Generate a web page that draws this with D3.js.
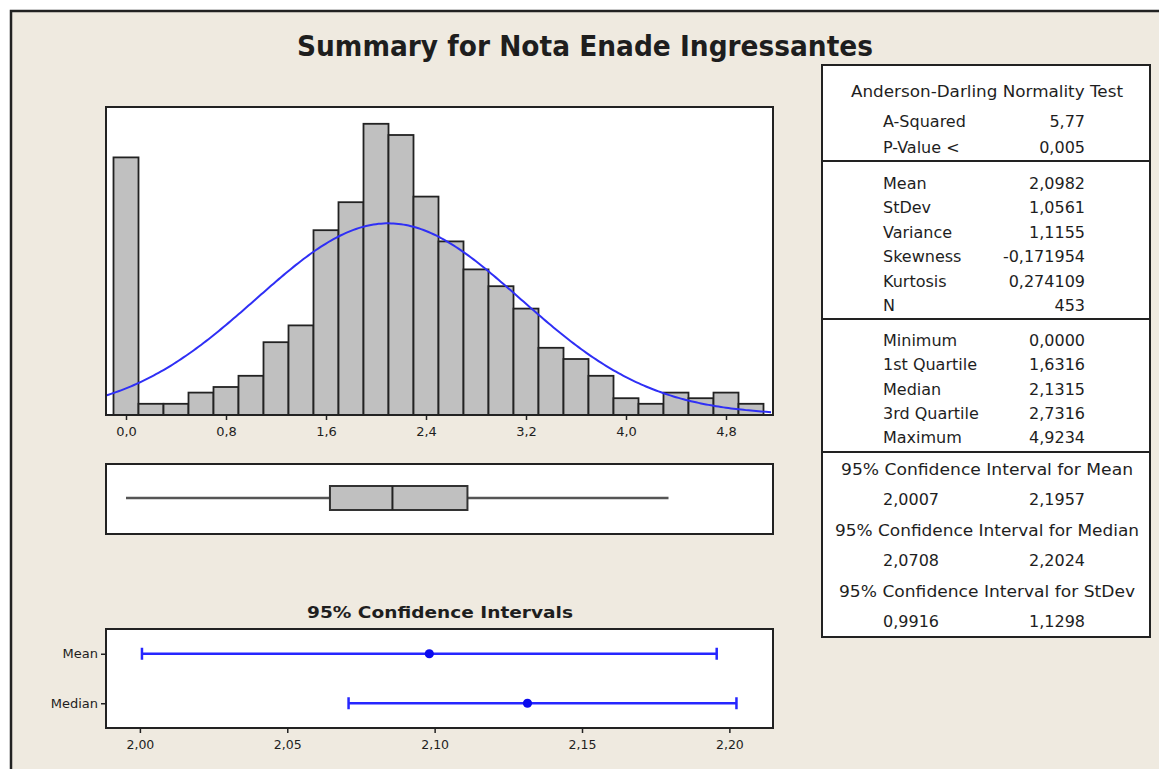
<!DOCTYPE html>
<html lang="en">
<head>
    <meta charset="UTF-8">
    <title>Summary for Nota Enade Ingressantes</title>
    <script src="https://d3js.org/d3.v7.min.js"></script>
    <style>
        body { margin: 0; background: #ffffff; }
        text { font-family: "DejaVu Sans", sans-serif; fill: #1e1e1e; }
        .axis path { display: none; }
        .axis line { stroke: #222; stroke-width: 1.5px; }
        .frame { fill: #ffffff; stroke: #222; stroke-width: 2px; }
        .bar { fill: #c0c0c0; stroke: #222; stroke-width: 1.8px; }
        .curve { fill: none; stroke: #2f2ff5; stroke-width: 2px; }
        .ci { stroke: #2626ff; stroke-width: 2.5px; }
    </style>
</head>
<body>
<div id="chart"></div>
<script>
    // histogram bins (midpoints, width 0.2) and counts
    const binMids = [0.0, 0.2, 0.4, 0.6, 0.8, 1.0, 1.2, 1.4, 1.6, 1.8, 2.0, 2.2, 2.4,
                     2.6, 2.8, 3.0, 3.2, 3.4, 3.6, 3.8, 4.0, 4.2, 4.4, 4.6, 4.8, 5.0];
    const binCounts = [46, 2, 2, 4, 5, 7, 13, 16, 33, 38, 52, 50, 39,
                       31, 26, 23, 19, 12, 10, 7, 3, 2, 4, 3, 4, 2];
    const binWidth = 0.2;
    const histTicks = [0.0, 0.8, 1.6, 2.4, 3.2, 4.0, 4.8];

    // fitted normal
    const mean = 2.0982;
    const stdev = 1.0561;
    const n = 453;

    // boxplot: low whisker, Q1, median, Q3, high whisker
    const boxStats = [0.0, 1.6316, 2.1315, 2.7316, 4.34];

    // 95% confidence intervals
    const ciRows = ["Mean", "Median"];
    const ciLow = [2.0007, 2.0708];
    const ciEst = [2.0982, 2.1315];
    const ciHigh = [2.1957, 2.2024];
    const ciTicks = [2.00, 2.05, 2.10, 2.15, 2.20];

    // summary table
    const adLabels = ["A-Squared", "P-Value <"];
    const adValues = ["5,77", "0,005"];
    const descLabels = ["Mean", "StDev", "Variance", "Skewness", "Kurtosis", "N"];
    const descValues = ["2,0982", "1,0561", "1,1155", "-0,171954", "0,274109", "453"];
    const quartLabels = ["Minimum", "1st Quartile", "Median", "3rd Quartile", "Maximum"];
    const quartValues = ["0,0000", "1,6316", "2,1315", "2,7316", "4,9234"];
    const ciHeaders = ["95% Confidence Interval for Mean", "95% Confidence Interval for Median",
                       "95% Confidence Interval for StDev"];
    const ciTableLow = ["2,0007", "2,0708", "0,9916"];
    const ciTableHigh = ["2,1957", "2,2024", "1,1298"];

    const W = 1159, H = 769;
    const locale = d3.formatLocale({decimal: ",", thousands: ".", grouping: [3], currency: ["", ""]});

    const svg = d3.select("#chart").append("svg")
        .attr("width", W)
        .attr("height", H);

    // background panel with border on top / left
    svg.append("rect").attr("x", 11).attr("y", 11).attr("width", W - 11).attr("height", H - 11)
        .attr("fill", "#efeae0");
    svg.append("path").attr("d", `M11,${H} L11,11 L${W},11`)
        .attr("fill", "none").attr("stroke", "#222").attr("stroke-width", 2.5);

    svg.append("text")
        .attr("x", 585).attr("y", 56)
        .attr("text-anchor", "middle")
        .attr("font-size", 29).attr("font-weight", "bold")
        .attr("textLength", 576).attr("lengthAdjust", "spacingAndGlyphs")
        .text("Summary for Nota Enade Ingressantes");

    // ---- histogram ----
    const plotL = 106, plotR = 773;
    const x = d3.scaleLinear().domain([-0.16, 5.176]).range([plotL, plotR]);
    const y = d3.scaleLinear().domain([0, 55]).range([415, 107]);

    svg.append("rect").attr("class", "frame")
        .attr("x", plotL).attr("y", 107).attr("width", plotR - plotL).attr("height", 415 - 107);

    svg.append("g").selectAll("rect")
        .data(binMids)
        .enter().append("rect")
        .attr("class", "bar")
        .attr("x", d => x(d - binWidth / 2))
        .attr("width", d => x(d + binWidth / 2) - x(d - binWidth / 2))
        .attr("y", (d, i) => y(binCounts[i]))
        .attr("height", (d, i) => y(0) - y(binCounts[i]));

    const normPdf = v => Math.exp(-0.5 * ((v - mean) / stdev) ** 2) / (stdev * Math.sqrt(2 * Math.PI));
    const curveX = d3.range(x.domain()[0], x.domain()[1] + 0.001, 0.02);
    svg.append("path")
        .datum(curveX)
        .attr("class", "curve")
        .attr("d", d3.line().x(d => x(d)).y(d => y(n * binWidth * normPdf(d))));

    // redraw frame outline on top
    svg.append("rect").attr("x", plotL).attr("y", 107).attr("width", plotR - plotL).attr("height", 415 - 107)
        .attr("fill", "none").attr("stroke", "#222").attr("stroke-width", 2);

    const xAxis = svg.append("g")
        .attr("class", "axis")
        .attr("transform", "translate(0,415)")
        .call(d3.axisBottom(x).tickValues(histTicks).tickFormat(locale.format(".1f")).tickSize(5).tickSizeOuter(0));
    xAxis.selectAll("text").attr("font-size", 13).attr("dy", "1.0em").attr("fill", "#1e1e1e");

    // ---- boxplot ----
    svg.append("rect").attr("class", "frame")
        .attr("x", plotL).attr("y", 464).attr("width", plotR - plotL).attr("height", 70);
    const boxY = 498;
    svg.append("line")
        .attr("x1", x(boxStats[0])).attr("x2", x(boxStats[1]))
        .attr("y1", boxY).attr("y2", boxY)
        .attr("stroke", "#555").attr("stroke-width", 2.6);
    svg.append("line")
        .attr("x1", x(boxStats[3])).attr("x2", x(boxStats[4]))
        .attr("y1", boxY).attr("y2", boxY)
        .attr("stroke", "#555").attr("stroke-width", 2.6);
    svg.append("rect")
        .attr("x", x(boxStats[1])).attr("width", x(boxStats[3]) - x(boxStats[1]))
        .attr("y", 486).attr("height", 24)
        .attr("fill", "#c0c0c0").attr("stroke", "#333").attr("stroke-width", 2);
    svg.append("line")
        .attr("x1", x(boxStats[2])).attr("x2", x(boxStats[2]))
        .attr("y1", 486).attr("y2", 510)
        .attr("stroke", "#222").attr("stroke-width", 2);

    // ---- confidence intervals ----
    svg.append("text")
        .attr("x", 440).attr("y", 618)
        .attr("text-anchor", "middle")
        .attr("font-size", 16).attr("font-weight", "bold")
        .attr("textLength", 266).attr("lengthAdjust", "spacingAndGlyphs")
        .text("95% Confidence Intervals");

    const cx = d3.scaleLinear().domain([1.9885, 2.2148]).range([plotL, plotR]);
    const cy = d3.scalePoint().domain(ciRows).range([629, 728]).padding(0.5);

    svg.append("rect").attr("class", "frame")
        .attr("x", plotL).attr("y", 629).attr("width", plotR - plotL).attr("height", 99);

    const ciG = svg.append("g").selectAll("g")
        .data(ciRows)
        .enter().append("g");
    ciG.append("line").attr("class", "ci")
        .attr("x1", (d, i) => cx(ciLow[i])).attr("x2", (d, i) => cx(ciHigh[i]))
        .attr("y1", d => cy(d)).attr("y2", d => cy(d));
    ciG.append("line").attr("class", "ci")
        .attr("x1", (d, i) => cx(ciLow[i])).attr("x2", (d, i) => cx(ciLow[i]))
        .attr("y1", d => cy(d) - 6).attr("y2", d => cy(d) + 6);
    ciG.append("line").attr("class", "ci")
        .attr("x1", (d, i) => cx(ciHigh[i])).attr("x2", (d, i) => cx(ciHigh[i]))
        .attr("y1", d => cy(d) - 6).attr("y2", d => cy(d) + 6);
    ciG.append("circle")
        .attr("cx", (d, i) => cx(ciEst[i])).attr("cy", d => cy(d))
        .attr("r", 4.6).attr("fill", "#0a0aee");

    const ciAxis = svg.append("g")
        .attr("class", "axis")
        .attr("transform", "translate(0,728)")
        .call(d3.axisBottom(cx).tickValues(ciTicks).tickFormat(locale.format(".2f")).tickSize(5).tickSizeOuter(0));
    ciAxis.selectAll("text").attr("font-size", 12.5).attr("dy", "1.0em").attr("fill", "#1e1e1e");

    const ciYAxis = svg.append("g")
        .attr("class", "axis")
        .attr("transform", `translate(${plotL},0)`)
        .call(d3.axisLeft(cy).tickSize(5).tickSizeOuter(0));
    ciYAxis.selectAll("text").attr("font-size", 13).attr("fill", "#1e1e1e");

    // ---- summary table ----
    const tL = 822, tR = 1150, labX = 883, valX = 1085, midX = 987;
    svg.append("rect").attr("class", "frame")
        .attr("x", tL).attr("y", 65).attr("width", tR - tL).attr("height", 637 - 65);
    [161, 319, 452].forEach(v => {
        svg.append("line").attr("x1", tL).attr("x2", tR).attr("y1", v).attr("y2", v)
            .attr("stroke", "#222").attr("stroke-width", 2);
    });

    const table = svg.append("g").attr("font-size", 16);
    table.append("text")
        .attr("x", midX).attr("y", 97).attr("text-anchor", "middle")
        .attr("textLength", 272).attr("lengthAdjust", "spacingAndGlyphs")
        .text("Anderson-Darling Normality Test");

    function rows(labels, values, y0, step) {
        labels.forEach((lab, i) => {
            table.append("text").attr("x", labX).attr("y", y0 + i * step).text(lab);
            table.append("text").attr("x", valX).attr("y", y0 + i * step)
                .attr("text-anchor", "end").text(values[i]);
        });
    }
    rows(adLabels, adValues, 127, 26);
    rows(descLabels, descValues, 188.5, 24.5);
    rows(quartLabels, quartValues, 346, 24.3);

    const headerW = [292, 304, 296];
    ciHeaders.forEach((h, i) => {
        const yh = 475 + i * 61;
        table.append("text")
            .attr("x", midX).attr("y", yh).attr("text-anchor", "middle")
            .attr("textLength", headerW[i]).attr("lengthAdjust", "spacingAndGlyphs")
            .text(h);
        table.append("text").attr("x", labX).attr("y", yh + 30).text(ciTableLow[i]);
        table.append("text").attr("x", valX).attr("y", yh + 30)
            .attr("text-anchor", "end").text(ciTableHigh[i]);
    });
</script>
</body>
</html>
